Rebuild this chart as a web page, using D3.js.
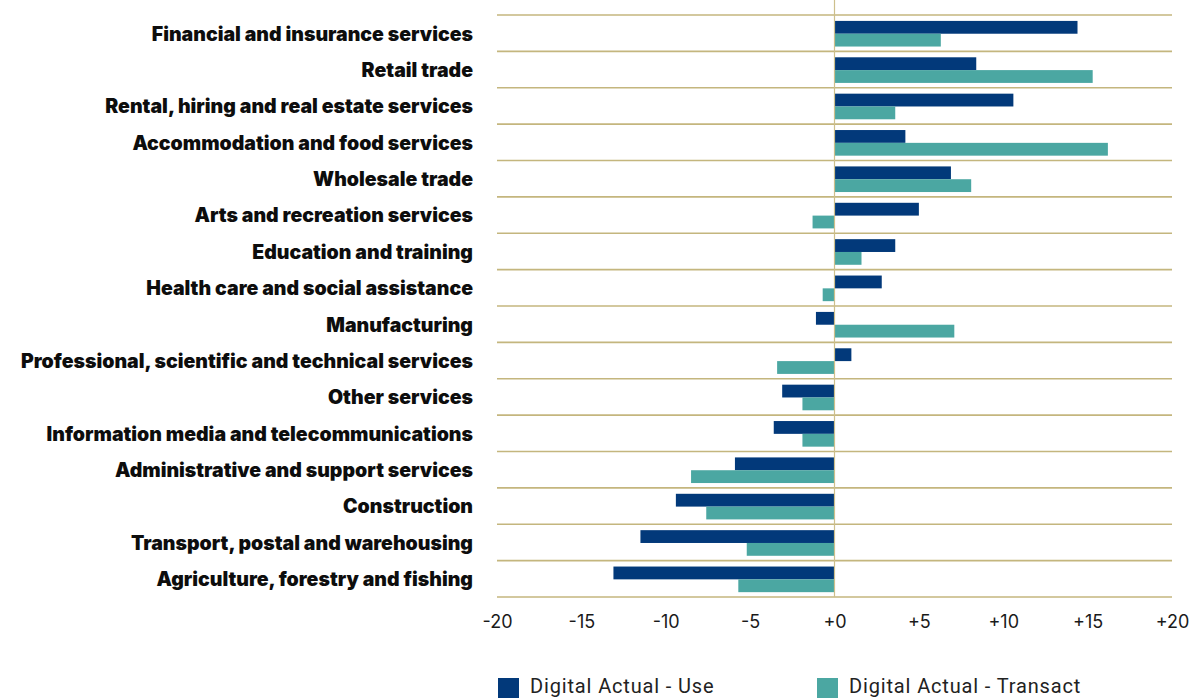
<!DOCTYPE html>
<html>
<head>
<meta charset="utf-8">
<script src="https://cdn.jsdelivr.net/npm/d3@7"></script>
<style>
  html, body { margin: 0; padding: 0; background: #fff; }
  svg { display: block; }
  .cat { font-family: Inter, "Noto Sans", sans-serif; font-weight: 900; font-size: 19.5px; letter-spacing: 0px; fill: #0d0d0d; }
  .tick text { font-family: Inter, "Noto Sans", sans-serif; font-size: 18px; }
  .legend text { font-family: Roboto, "Noto Sans", sans-serif; font-size: 20px; letter-spacing: 0.85px; fill: #222; }
</style>
</head>
<body>
<svg id="chart" width="1192" height="698"></svg>
<script>
// Industries, top to bottom
const categories = [
  "Financial and insurance services",
  "Retail trade",
  "Rental, hiring and real estate services",
  "Accommodation and food services",
  "Wholesale trade",
  "Arts and recreation services",
  "Education and training",
  "Health care and social assistance",
  "Manufacturing",
  "Professional, scientific and technical services",
  "Other services",
  "Information media and telecommunications",
  "Administrative and support services",
  "Construction",
  "Transport, postal and warehousing",
  "Agriculture, forestry and fishing"
];

// Change in digital use
const useValues = [14.4, 8.4, 10.6, 4.2, 6.9, 5.0, 3.6, 2.8, -1.1, 1.0, -3.1, -3.6, -5.9, -9.4, -11.5, -13.1];
// Change in digital transactions
const transactValues = [6.3, 15.3, 3.6, 16.2, 8.1, -1.3, 1.6, -0.7, 7.1, -3.4, -1.9, -1.9, -8.5, -7.6, -5.2, -5.7];

const seriesNames = ["Digital Actual - Use", "Digital Actual - Transact"];
const tickValues = [-20, -15, -10, -5, 0, 5, 10, 15, 20];

const colors = ["#02397a", "#4ba7a2"];
const gridColor = "#c4b67e";

const svg = d3.select("#chart");
const plotLeft = 497, plotRight = 1172, plotTop = 15, plotBottom = 597;

const x = d3.scaleLinear().domain([-20, 20]).range([plotLeft, plotRight]);
const y = d3.scaleBand().domain(categories).range([plotTop, plotBottom]);
const inner = d3.scaleBand().domain([0, 1]).range([0, y.bandwidth()])
  .paddingOuter(0.42).paddingInner(0).align(0.55);

// horizontal separators at band edges
const edges = categories.map(c => y(c)).concat([plotBottom]);
svg.append("g").selectAll("line").data(edges).join("line")
  .attr("x1", plotLeft).attr("x2", plotRight)
  .attr("y1", d => d).attr("y2", d => d)
  .attr("stroke", gridColor).attr("stroke-width", 1.6);

// bars
const rows = categories.map((c, i) => ({ c, vals: [useValues[i], transactValues[i]] }));
const g = svg.append("g").selectAll("g").data(rows).join("g")
  .attr("transform", d => `translate(0,${y(d.c)})`);
g.selectAll("rect").data(d => d.vals.map((v, k) => ({ v, k }))).join("rect")
  .attr("x", d => x(Math.min(0, d.v)))
  .attr("width", d => Math.abs(x(d.v) - x(0)))
  .attr("y", d => inner(d.k))
  .attr("height", inner.bandwidth())
  .attr("fill", d => colors[d.k]);

// zero line
svg.append("line")
  .attr("x1", x(0)).attr("x2", x(0))
  .attr("y1", 0).attr("y2", plotBottom)
  .attr("stroke", "#cdbf8c").attr("stroke-width", 1.2);

// category labels
svg.append("g").selectAll("text").data(categories).join("text")
  .attr("class", "cat")
  .attr("x", 473)
  .attr("y", d => y(d) + y.bandwidth() / 2 + 0.5)
  .attr("dy", "0.35em")
  .attr("text-anchor", "end")
  .text(d => d);

// x axis labels
const axis = d3.axisBottom(x).tickValues(tickValues).tickSize(0).tickPadding(0)
  .tickFormat(d => (d >= 0 ? "+" : "") + d);
const ax = svg.append("g").attr("transform", `translate(0,${plotBottom + 18})`).call(axis);
ax.select(".domain").remove();
ax.selectAll(".tick text").attr("fill", "#1a1a1a");

// legend
const legend = svg.append("g").attr("class", "legend");
const legendX = [498, 817];
seriesNames.forEach((name, i) => {
  legend.append("rect").attr("x", legendX[i]).attr("y", 678).attr("width", 21).attr("height", 22).attr("fill", colors[i]);
  legend.append("text").attr("x", legendX[i] + 32).attr("y", 693).text(name);
});
</script>
</body>
</html>
